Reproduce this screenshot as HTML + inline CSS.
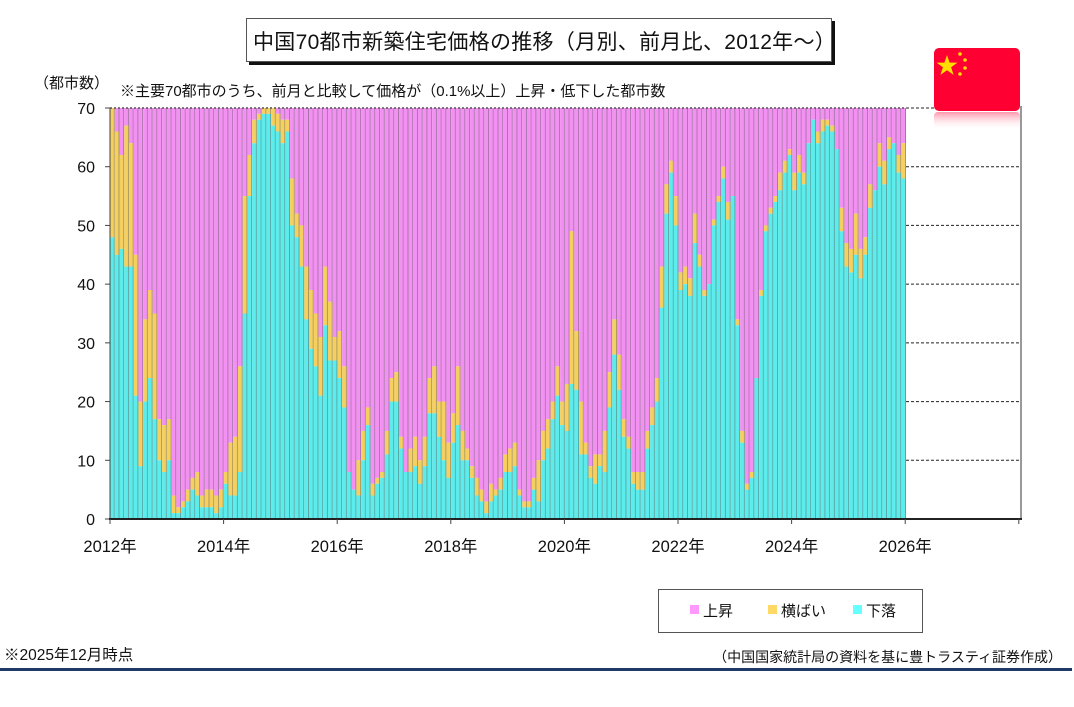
<!DOCTYPE html>
<html><head><meta charset="utf-8">
<style>
html,body{margin:0;padding:0;background:#fff;}
body{width:1074px;height:707px;overflow:hidden;position:relative;font-family:"Liberation Sans","Noto Sans CJK JP",sans-serif;color:#111;}
.t{position:absolute;white-space:nowrap;}
</style></head><body>
<div style="position:absolute;left:249px;top:21px;width:586px;height:44px;background:#111;"></div>
<div style="position:absolute;left:246px;top:18px;width:584px;height:42px;background:#fff;border:1px solid #555;"></div>
<div class="t" style="left:253px;top:26px;font-size:21px;letter-spacing:0.3px;">中国70都市新築住宅価格の推移（月別、前月比、2012年～）</div>
<div class="t" style="left:34px;top:72px;font-size:15px;">（都市数）</div>
<div class="t" style="left:120px;top:80px;font-size:15px;">※主要70都市のうち、前月と比較して価格が（0.1%以上）上昇・低下した都市数</div>
<svg id="c" width="1074" height="707" style="position:absolute;left:0;top:0;" xmlns="http://www.w3.org/2000/svg">
<defs><linearGradient id="rf" x1="0" y1="0" x2="0" y2="1"><stop offset="0" stop-color="#ff6688" stop-opacity="0.7"/><stop offset="1" stop-color="#fff" stop-opacity="0"/></linearGradient></defs>
<g id="bars"></g>
<g id="grid"></g>
<rect x="934" y="48" width="86" height="63" rx="5" fill="#ff0033"/>
<rect x="934" y="112" width="86" height="18" rx="4" fill="url(#rf)"/>
<polygon points="947,55 949.6,62.6 957.5,62.6 951.1,67.3 953.6,74.9 947,70.2 940.4,74.9 942.9,67.3 936.5,62.6 944.4,62.6" fill="#ffde00"/>
<circle cx="960" cy="54" r="1.8" fill="#ffde00"/><circle cx="965" cy="60" r="1.8" fill="#ffde00"/>
<circle cx="965" cy="68" r="1.8" fill="#ffde00"/><circle cx="960" cy="74" r="1.8" fill="#ffde00"/>
</svg>
<div style="position:absolute;left:658px;top:589px;width:263px;height:42px;border:1px solid #555;background:#fff;"></div>
<div style="position:absolute;left:690px;top:605px;width:9px;height:9px;background:#ff99ff;"></div>
<div class="t" style="left:703px;top:600px;font-size:15px;">上昇</div>
<div style="position:absolute;left:768px;top:605px;width:9px;height:9px;background:#ffd966;"></div>
<div class="t" style="left:781px;top:600px;font-size:15px;">横ばい</div>
<div style="position:absolute;left:853px;top:605px;width:9px;height:9px;background:#66ffff;"></div>
<div class="t" style="left:866px;top:600px;font-size:15px;">下落</div>
<div class="t" style="left:4px;top:647px;font-size:15.5px;line-height:18px;">※2025年12月時点</div>
<div class="t" style="right:12px;top:648px;font-size:14px;line-height:18px;">（中国国家統計局の資料を基に豊トラスティ証券作成）</div>
<div style="position:absolute;left:0;top:668px;width:1072px;height:3px;background:#1f3864;"></div>
<script>
var D=[48,45,46,43,43,21,9,20,24,17,10,8,10,1,1,2,3,5,4,2,2,2,1,2,6,4,4,8,35,55,64,68,69,69,67,66,64,66,50,48,43,34,29,26,21,33,27,27,24,19,8,5,4,10,16,4,6,7,11,20,20,12,8,8,9,6,9,18,18,14,10,7,13,16,10,10,7,4,3,1,3,4,5,8,8,9,4,2,2,5,3,10,12,17,21,16,15,23,22,11,11,7,6,9,8,19,28,22,14,12,6,5,5,12,16,20,36,52,59,50,39,40,38,47,43,38,40,50,54,58,51,55,33,13,5,7,24,38,49,52,54,56,59,62,56,59,57,64,68,64,66,67,66,63,49,43,42,45,41,45,53,56,60,57,63,64,59,58];
var T=[70,66,62,67,64,45,20,34,39,35,17,16,17,4,2,3,5,7,8,4,5,5,4,5,8,13,14,26,55,62,68,69,70,70,70,69,68,68,58,52,50,43,39,35,31,43,37,31,32,26,8,5,10,15,19,6,7,8,15,24,25,14,8,12,14,10,14,24,26,20,20,13,18,26,15,12,9,7,5,3,6,5,7,11,12,13,5,3,3,7,10,15,17,20,26,20,23,49,32,20,13,9,11,11,15,25,34,28,17,14,8,8,8,15,19,24,43,57,61,55,42,43,41,52,45,39,40,51,55,60,54,55,34,15,6,8,24,39,50,53,55,59,61,63,59,62,59,64,68,66,68,68,67,63,53,47,46,52,46,48,57,56,64,61,65,64,62,64];
var NS="http://www.w3.org/2000/svg";
function el(n,a,p){var e=document.createElementNS(NS,n);for(var k in a)e.setAttribute(k,a[k]);p.appendChild(e);return e;}
var b=document.getElementById('bars'),g=document.getElementById('grid');
var x0=110,w=(906-110)/168,Y=function(v){return 519-v*411/70;};
for(var i=0;i<168;i++){var x=x0+i*w;
 el('rect',{x:x,y:Y(70),width:w,height:Y(T[i])-Y(70),fill:'#f291f2'},b);
 el('rect',{x:x,y:Y(T[i]),width:w,height:Y(D[i])-Y(T[i]),fill:'#f5d060'},b);
 el('rect',{x:x,y:Y(D[i]),width:w,height:519-Y(D[i]),fill:'#5cecec'},b);
 el('line',{x1:x+w-0.5,y1:Y(70),x2:x+w-0.5,y2:519,stroke:'#555',"stroke-opacity":0.45,"stroke-width":1},b);
}
for(var v=0;v<=70;v+=10){var y=Y(v);
 el('line',{x1:906,y1:y,x2:1020,y2:y,stroke:'#222',"stroke-width":1,"stroke-dasharray":"3,2"},g);
 el('line',{x1:v==70?110:906,y1:y,x2:906,y2:y,stroke:'#555',"stroke-width":v==70?1.5:0,"stroke-dasharray":"2,2"},g);
 el('line',{x1:105,y1:y,x2:110,y2:y,stroke:'#444'},g);
 var t=el('text',{x:95,y:y+6,"text-anchor":"end","font-size":16,fill:'#111',"font-family":"Liberation Sans, sans-serif"},g);t.textContent=v;
}
el('line',{x1:110,y1:Y(70),x2:110,y2:519,stroke:'#444'},g);
el('line',{x1:1021,y1:106,x2:1021,y2:520,stroke:'#999',"stroke-width":2},g);
el('line',{x1:109,y1:519,x2:1022,y2:519,stroke:'#222',"stroke-width":2},g);
for(var k=0;k<=8;k++){var x=110+k*114*0.9965;
 el('line',{x1:x,y1:519,x2:x,y2:524,stroke:'#444'},g);
 if(k<=7){var t=el('text',{x:x,y:552,"text-anchor":"middle","font-size":16.5,fill:'#111',"font-family":"Liberation Sans, Noto Sans CJK JP, sans-serif"},g);t.textContent=(2012+2*k)+'年';}
}
</script>
</body></html>
